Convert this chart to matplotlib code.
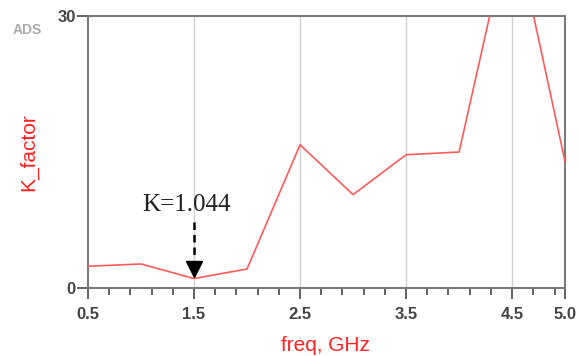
import numpy as np
import matplotlib.pyplot as plt

# Данные K-фактора по частоте
freq = [0.5, 1.0, 1.5, 2.0, 2.5, 3.0, 3.5, 4.0, 4.5, 5.0]
k_factor = [2.4, 2.65, 1.044, 2.1, 15.8, 10.3, 14.7, 15.0, 41.0, 13.9]
major_ticks = [0.5, 1.5, 2.5, 3.5, 4.5, 5.0]
minor_ticks = list(np.arange(0.5, 5.0, 0.2)) + [5.0]
marker_freq = 1.5
marker_text = 'K=1.044'

fig = plt.figure(figsize=(5.79, 3.56), dpi=100)
ax = fig.add_axes([0.152, 0.191, 0.824, 0.764])

ax.plot(freq, k_factor, color='#ff5a5a', lw=1.2, clip_on=True, zorder=3)

ax.set_xlim(0.5, 5.0)
ax.set_ylim(0, 30)
ax.set_xticks(major_ticks)
ax.set_xticklabels(['0.5', '1.5', '2.5', '3.5', '4.5', '5.0'])
ax.set_xticks(minor_ticks, minor=True)
ax.set_yticks([0, 30])

for x in major_ticks[1:-1]:
    ax.axvline(x, color='#d0d0d0', lw=1, zorder=1)

for s in ax.spines.values():
    s.set_color('#7a7a7a')
    s.set_linewidth(1.5)

ax.tick_params(axis='x', which='major', length=8, width=1.3, color='#555555',
               labelsize=12, labelcolor='#444444', pad=6)
ax.tick_params(axis='x', which='minor', length=5, width=1.3, color='#555555')
ax.tick_params(axis='y', length=8, width=1.3, color='#555555',
               labelsize=12, labelcolor='#444444', pad=1)
for lab in ax.get_xticklabels() + ax.get_yticklabels():
    lab.set_fontweight('bold')
    lab.set_family('Liberation Sans')

ax.set_xlabel('freq, GHz', color='#ff2020', fontsize=15, family='Liberation Sans', va='center')
ax.xaxis.set_label_coords(0.498, -0.213)
ax.set_ylabel('K_factor', color='#ff2020', fontsize=15, family='Liberation Sans', va='center')
ax.yaxis.set_label_coords(-0.124, 0.5)

# Маркер минимума
ax.plot([marker_freq, marker_freq], [7.3, 3.2], color='black', lw=1.8, ls=(0, (3, 2)), zorder=4)
ax.plot([marker_freq], [2.1], marker='v', color='black', markersize=12, zorder=5)
ax.text(marker_freq - 0.07, 9.2, marker_text, family='Liberation Serif', fontsize=18,
        ha='center', va='center', color='#222222')

fig.text(0.022, 0.905, 'ADS', color='#aaaaaa', fontsize=10, fontweight='bold', family='Liberation Sans')

fig.savefig('out.png', dpi=100)
